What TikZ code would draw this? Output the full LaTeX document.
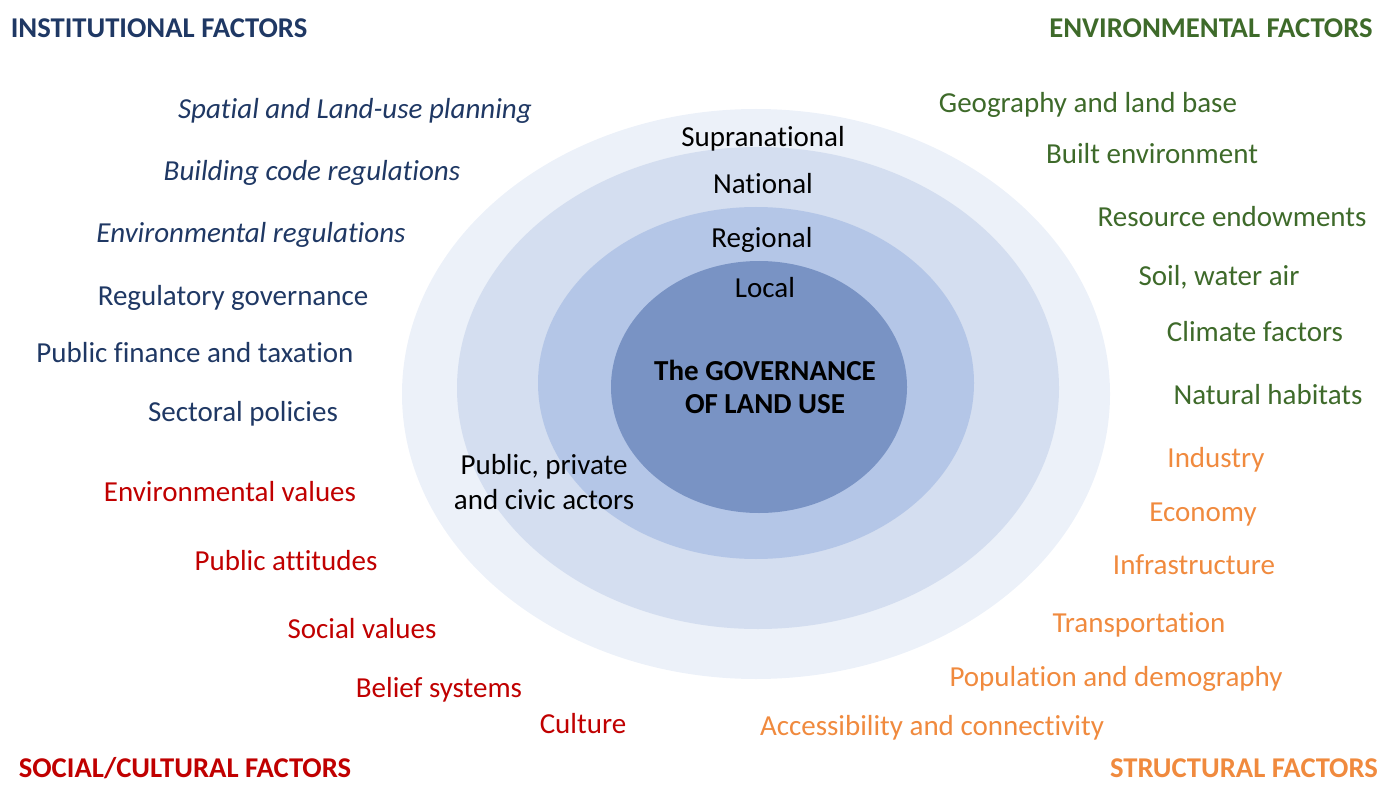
\documentclass[tikz,border=0pt]{standalone}
\usepackage{fontspec}
\setmainfont{Carlito}[Ligatures=NoCommon]

\definecolor{instblue}{HTML}{1F3864}
\definecolor{envgreen}{HTML}{3E6A2A}
\definecolor{socred}{HTML}{C00000}
\definecolor{structorange}{HTML}{F08A3E}
\definecolor{ringA}{HTML}{ECF1F9}
\definecolor{ringB}{HTML}{D4DEF0}
\definecolor{ringC}{HTML}{B4C6E7}
\definecolor{ringD}{HTML}{7993C4}

\tikzset{
  factor/.style={anchor=base,inner sep=0pt,font=\fontsize{16.5}{19}\selectfont},
  heading/.style={factor,font=\fontsize{16.3}{19}\selectfont\bfseries},
  level/.style={factor,text=black},
  inst/.style={factor,text=instblue},
  env/.style={factor,text=envgreen},
  soc/.style={factor,text=socred},
  struct/.style={factor,text=structorange},
}

\begin{document}
\begin{tikzpicture}[x=0.2mm,y=-0.2mm]
  \useasboundingbox (0,0) rectangle (1383,785);
  % nested levels of governance
  \fill[ringA] (756,394) ellipse [x radius=354,y radius=285];
  \fill[ringB] (758,388) ellipse [x radius=301,y radius=241];
  \fill[ringC] (756,383) ellipse [x radius=218,y radius=176];
  \fill[ringD] (759,387) ellipse [x radius=148,y radius=126];
  \node[level] at (763,147) (supra) {Supranational};
  \node[level] at (763,194) (nat) {National};
  \node[level] at (762,248) (reg) {Regional};
  \node[level] at (765,298) (loc) {Local};
  \node[level,anchor=center,align=center,font=\fontsize{16.5}{19}\selectfont\bfseries]
    at (765,387) (gov) {The GOVERNANCE\\OF LAND USE};
  \node[level,anchor=center,align=center,font=\fontsize{16.5}{19.5}\selectfont]
    at (544,482) (actors) {Public, private\\and civic actors};
  % institutional factors
  \node[heading,text=instblue] at (159,38) (insthead) {INSTITUTIONAL FACTORS};
  \node[inst,font=\fontsize{16.5}{19}\selectfont\itshape] at (355,119) (planning) {Spatial and Land-use planning};
  \node[inst,font=\fontsize{16.5}{19}\selectfont\itshape] at (312,181) (building) {Building code regulations};
  \node[inst,font=\fontsize{16.5}{19}\selectfont\itshape] at (251,243) (envreg) {Environmental regulations};
  \node[inst] at (233,305) (regulatory) {Regulatory governance};
  \node[inst] at (195,362) (finance) {Public finance and taxation};
  \node[inst] at (243,421) (sectoral) {Sectoral policies};
  % social and cultural factors
  \node[soc] at (230,501) (envval) {Environmental values};
  \node[soc] at (286,570) (attitudes) {Public attitudes};
  \node[soc] at (362,638) (socval) {Social values};
  \node[soc] at (439,697) (belief) {Belief systems};
  \node[soc] at (583,733) (culture) {Culture};
  \node[heading,text=socred] at (185,777) (sochead) {SOCIAL/CULTURAL FACTORS};
  % environmental factors
  \node[heading,text=envgreen] at (1211,38) (envhead) {ENVIRONMENTAL FACTORS};
  \node[env] at (1088,113) (geo) {Geography and land base};
  \node[env] at (1152,164) (built) {Built environment};
  \node[env] at (1232,227) (resource) {Resource endowments};
  \node[env] at (1219,286) (soil) {Soil, water air};
  \node[env] at (1255,341) (climate) {Climate factors};
  \node[env] at (1268,404) (habitats) {Natural habitats};
  % structural factors
  \node[struct] at (1216,467) (industry) {Industry};
  \node[struct] at (1203,521) (economy) {Economy};
  \node[struct] at (1194,574) (infra) {Infrastructure};
  \node[struct] at (1139,632) (transport) {Transportation};
  \node[struct] at (1116,686) (population) {Population and demography};
  \node[struct] at (932,735) (access) {Accessibility and connectivity};
  \node[heading,text=structorange] at (1244,777) (structhead) {STRUCTURAL FACTORS};
\end{tikzpicture}
\end{document}
